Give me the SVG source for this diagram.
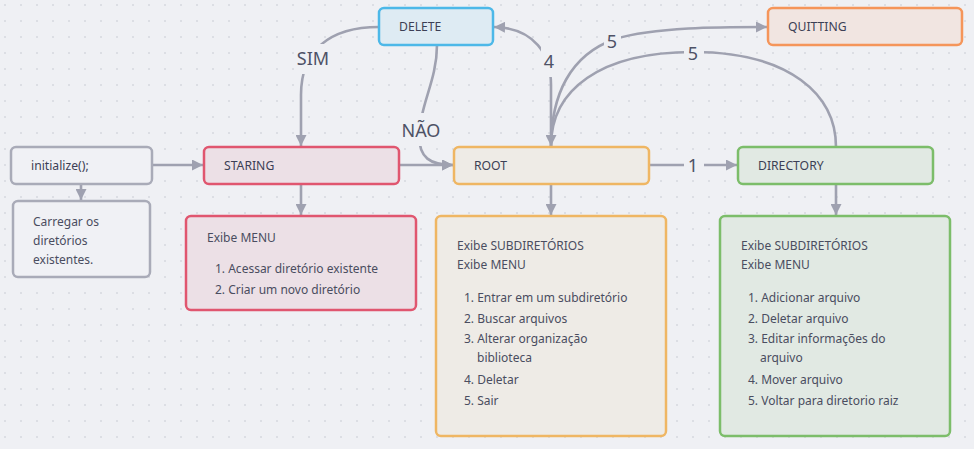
<svg xmlns="http://www.w3.org/2000/svg" width="974" height="449" viewBox="0 0 974 449">
<defs>
<pattern id="dots" width="16" height="16" patternUnits="userSpaceOnUse" x="4" y="4">
<circle cx="1" cy="1" r="0.8" fill="#c3c5cf"/>
</pattern>
<marker id="arr" viewBox="0 0 10 10" refX="10" refY="5" markerWidth="11" markerHeight="11" markerUnits="userSpaceOnUse" orient="auto">
<path d="M0,0 L10,5 L0,10 z" fill="#9fa1b0"/>
</marker>
<style>
.c{fill:none;stroke:#9fa1b0;stroke-width:2.6;}
.t{font-family:"Noto Sans","Open Sans",sans-serif;font-size:12.2px;fill:#3c3f55;}
.b{font-family:"Noto Sans","Open Sans",sans-serif;font-size:12px;fill:#4a4d60;}
.l{font-family:"Noto Sans","Open Sans",sans-serif;font-size:18px;fill:#4e5266;text-anchor:middle;}
.lb{fill:#eff0f4;}
rect.n{stroke-width:2.5;}
</style>
</defs>
<rect width="974" height="449" fill="#eff0f4"/>
<rect width="974" height="449" fill="url(#dots)"/>

<g id="connectors">
<path class="c" d="M152,165 L203,165" marker-end="url(#arr)"/>
<path class="c" d="M81,184 L81,200" marker-end="url(#arr)"/>
<path class="c" d="M301,184 L301,215" marker-end="url(#arr)"/>
<path class="c" d="M399,165 L453,165" marker-end="url(#arr)"/>
<path class="c" d="M551,184 L551,215" marker-end="url(#arr)"/>
<path class="c" d="M836,184 L836,215" marker-end="url(#arr)"/>
<path class="c" d="M649,165 L737,165" marker-end="url(#arr)"/>
<path class="c" d="M379,27 C330,27 301,50 301,95 L301,146" marker-end="url(#arr)"/>
<path class="c" d="M437,45 C437,80 420,105 419,135 C419,158 430,165 453,165" marker-end="url(#arr)"/>
<path class="c" d="M551,147 L551,85 C551,55 535,28 494,27" marker-end="url(#arr)"/>
<path class="c" d="M551,147 C551,95 570,55 615,39 C655,27 720,27 767,27" marker-end="url(#arr)"/>
<path class="c" d="M836,147 C836,95 790,52 693,52 C600,52 551,90 551,146" marker-end="url(#arr)"/>
<rect class="lb" x="297" y="44" width="34" height="30"/>
<text class="l" x="313" y="65">SIM</text>
<rect class="lb" x="400" y="113" width="42" height="33"/>
<text class="l" x="421" y="137">NÃO</text>
<rect class="lb" x="541" y="45" width="17" height="32"/>
<text class="l" x="549" y="68">4</text>
<rect class="lb" x="604" y="29" width="17" height="26"/>
<text class="l" x="612" y="48">5</text>
<rect class="lb" x="684" y="41" width="20" height="26"/>
<text class="l" x="693" y="60">5</text>
<rect class="lb" x="684" y="153" width="20" height="26"/>
<text class="l" x="693" y="172">1</text>
</g>

<g id="initialize">
<rect class="n" x="11" y="147" width="141" height="37" rx="5" fill="#f0f1f5" stroke="#a9abb8"/>
<text class="t" x="31" y="170">initialize();</text>
</g>
<g id="carregar">
<rect class="n" x="13" y="201" width="137" height="76" rx="5" fill="#f0f1f5" stroke="#a9abb8"/>
<text class="b" x="33" y="226">Carregar os</text>
<text class="b" x="33" y="245">diretórios</text>
<text class="b" x="33" y="264">existentes.</text>
</g>
<g id="staring">
<rect class="n" x="204" y="147" width="195" height="37" rx="5" fill="#ece0e6" stroke="#e0566f"/>
<text class="t" x="224" y="170">STARING</text>
</g>
<g id="staring-menu">
<rect class="n" x="186" y="216" width="230" height="94" rx="5" fill="#ece0e6" stroke="#e0566f"/>
<text class="b" x="207" y="242">Exibe MENU</text>
<text class="b" x="215" y="273">1. Acessar diretório existente</text>
<text class="b" x="215" y="294">2. Criar um novo diretório</text>
</g>
<g id="delete">
<rect class="n" x="379" y="8" width="114" height="37" rx="5" fill="#deebf3" stroke="#4db8e8"/>
<text class="t" x="399" y="31">DELETE</text>
</g>
<g id="root">
<rect class="n" x="454" y="147" width="195" height="37" rx="5" fill="#eeebe6" stroke="#efb663"/>
<text class="t" x="474" y="170">ROOT</text>
</g>
<g id="root-menu">
<rect class="n" x="436" y="216" width="230" height="220" rx="5" fill="#eeebe6" stroke="#efb663"/>
<text class="b" x="457" y="250">Exibe SUBDIRETÓRIOS</text>
<text class="b" x="457" y="269">Exibe MENU</text>
<text class="b" x="464" y="302">1. Entrar em um subdiretório</text>
<text class="b" x="464" y="323">2. Buscar arquivos</text>
<text class="b" x="464" y="343">3. Alterar organização</text>
<text class="b" x="477" y="362">biblioteca</text>
<text class="b" x="464" y="384">4. Deletar</text>
<text class="b" x="464" y="405">5. Sair</text>
</g>
<g id="quitting">
<rect class="n" x="768" y="8" width="194" height="37" rx="5" fill="#f1e5e1" stroke="#f5955a"/>
<text class="t" x="788" y="31">QUITTING</text>
</g>
<g id="directory">
<rect class="n" x="738" y="147" width="195" height="37" rx="5" fill="#e1e9e3" stroke="#7cbd6a"/>
<text class="t" x="758" y="170">DIRECTORY</text>
</g>
<g id="directory-menu">
<rect class="n" x="720" y="216" width="230" height="220" rx="5" fill="#e1e9e3" stroke="#7cbd6a"/>
<text class="b" x="741" y="250">Exibe SUBDIRETÓRIOS</text>
<text class="b" x="741" y="269">Exibe MENU</text>
<text class="b" x="748" y="302">1. Adicionar arquivo</text>
<text class="b" x="748" y="323">2. Deletar arquivo</text>
<text class="b" x="748" y="343">3. Editar informações do</text>
<text class="b" x="760" y="362">arquivo</text>
<text class="b" x="748" y="384">4. Mover arquivo</text>
<text class="b" x="748" y="405">5. Voltar para diretorio raiz</text>
</g>
</svg>
